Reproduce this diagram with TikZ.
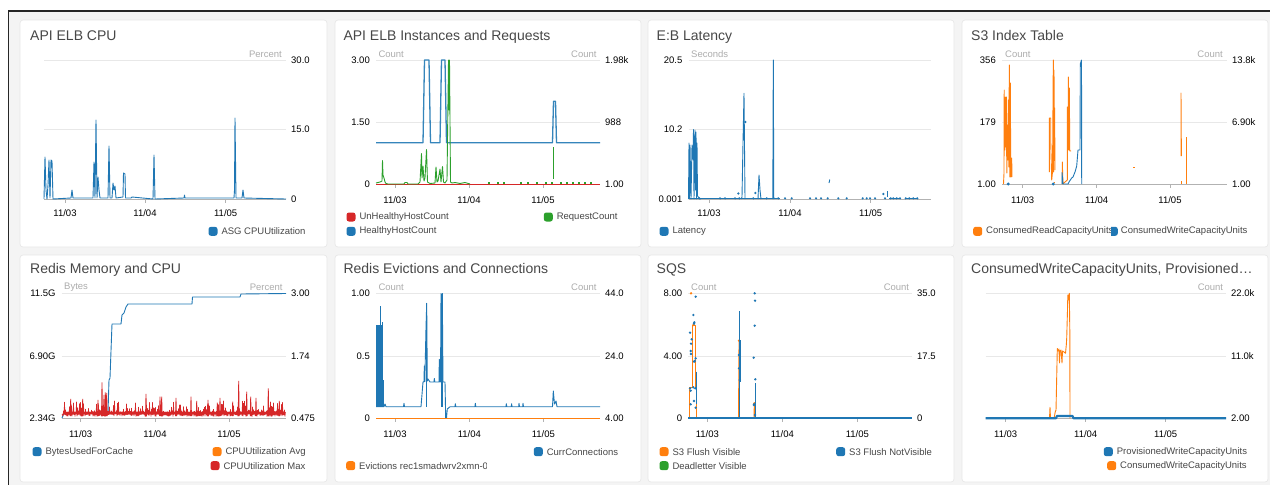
\documentclass[tikz,border=0pt]{standalone}
\usepackage{fontspec}
\setmainfont{Liberation Sans}
\definecolor{cwblue}{HTML}{1F77B4}
\definecolor{cworange}{HTML}{FF7F0E}
\definecolor{cwgreen}{HTML}{2CA02C}
\definecolor{cwred}{HTML}{D62728}
\definecolor{pagebg}{HTML}{F4F4F4}
\newcommand\ttlfont{\fontsize{14}{16}\selectfont}
\newcommand\lblfont{\fontsize{9.5}{11}\selectfont}
\tikzset{
  panelbox/.style={fill=white, draw=black!9, line width=0.7pt, rounded corners=3pt},
  gridln/.style={draw=black!9, line width=0.6pt},
  axisln/.style={draw=black!30, line width=0.9pt},
  tickln/.style={draw=black!30, line width=0.6pt},
  ttl/.style={font=\ttlfont, text=black!72, anchor=base west, inner sep=0pt},
  axlbl/.style={font=\lblfont, text=black, inner sep=0pt},
  unitlbl/.style={font=\lblfont, text=black!32, inner sep=0pt},
  legtxt/.style={font=\lblfont, text=black!72, anchor=west, inner sep=0pt},
  legsq/.style={minimum size=9pt, inner sep=0pt, rounded corners=2.5pt},
  series/.style={line width=0.9pt, line join=round},
}
% gridlines at top and middle, x axis at the bottom
\newcommand\chartframe[5]{%
  \draw[gridln] (#1,#3) -- (#2,#3) (#1,#4) -- (#2,#4);
  \draw[axisln] (#1,#5) -- (#2,#5);}
% value labels left of the plot
\newcommand\leftvals[8]{%
  \node[axlbl, anchor=east] (#1-a) at (#2-6,#3) {#6};
  \node[axlbl, anchor=east] (#1-b) at (#2-6,#4) {#7};
  \node[axlbl, anchor=east] (#1-c) at (#2-6,#5) {#8};}
% value labels right of the plot
\newcommand\rightvals[8]{%
  \node[axlbl, anchor=west] (#1-a) at (#2+5,#3) {#6};
  \node[axlbl, anchor=west] (#1-b) at (#2+5,#4) {#7};
  \node[axlbl, anchor=west] (#1-c) at (#2+5,#5) {#8};}
% date ticks and labels
\newcommand\datelabels[6]{%
  \draw[tickln] (#4,#2) -- (#4,#2+4) (#5,#2) -- (#5,#2+4) (#6,#2) -- (#6,#2+4);
  \node[axlbl] (#1-d1) at (#4,#3) {11/03};
  \node[axlbl] (#1-d2) at (#5,#3) {11/04};
  \node[axlbl] (#1-d3) at (#6,#3) {11/05};}
% legend entry: swatch and text
\newcommand\legentry[5]{%
  \node[legsq, fill=#2] (#1-sq) at (#3,#4) {};
  \node[legtxt] (#1-tx) at (#3+8.3,#4) {#5};}

\begin{document}
\begin{tikzpicture}[x=1pt,y=-1pt]
\useasboundingbox (0,0) rectangle (1270,485);
\fill[white] (0,0) rectangle (1270,485);
\fill[pagebg] (8.3,11) rectangle (1270,485);
\draw[black!85, line width=1.1pt] (1270,11) -- (8.3,11) -- (8.3,485);

% ---------- panels ----------
\draw[panelbox] (20,20) rectangle (327,247);
\draw[panelbox] (335,20) rectangle (641,247);
\draw[panelbox] (648,20) rectangle (954,247);
\draw[panelbox] (962,20) rectangle (1268,247);
\draw[panelbox] (20,255) rectangle (327,482);
\draw[panelbox] (335,255) rectangle (641,482);
\draw[panelbox] (648,255) rectangle (954,482);
\draw[panelbox] (962,255) rectangle (1268,482);

\node[ttl] (t1) at (30,40) {API ELB CPU};
\node[ttl] (t2) at (343.3,40) {API ELB Instances and Requests};
\node[ttl] (t3) at (656.5,40) {E:B Latency};
\node[ttl] (t4) at (971,40) {S3 Index Table};
\node[ttl] (t5) at (30,273.3) {Redis Memory and CPU};
\node[ttl] (t6) at (343.3,273.3) {Redis Evictions and Connections};
\node[ttl] (t7) at (656.5,273.3) {SQS};
\node[ttl] (t8) at (971,273.3) {ConsumedWriteCapacityUnits, Provisioned…};

% ---------- API ELB CPU ----------
\chartframe{44}{286}{60}{129}{199}
\node[unitlbl, anchor=east] (u1) at (282,54) {Percent};
\rightvals{r1}{286}{60}{129}{199}{30.0}{15.0}{0}
\datelabels{c1}{199}{213.5}{65}{145}{225.7}
\draw[cwblue, series] plot coordinates {(44,199) (45,157) (46,190) (47,199) (48,185)
  (49,160) (50,198) (51,160) (52,161) (53,199) (71,198) (72,190) (73,198) (93,198)
  (94,162) (95,198) (96,120) (97,198) (98,177) (99,190) (100,198) (108,198) (109,146)
  (110,198) (112,198) (113,183) (114,190) (115,186) (116,198) (123,197) (123.5,173)
  (125,174) (125.5,198) (131,198) (132,197) (153,199) (154,155) (155,199) (184,198)
  (184.5,195) (185,198) (234,198) (234.5,190) (235,118) (236,198) (242,198) (243,190)
  (244,198) (286,199)};
\legentry{lg1}{cwblue}{213}{231.3}{ASG CPUUtilization}

% ---------- API ELB Instances and Requests ----------
\chartframe{376}{600}{60}{122}{184}
\node[unitlbl, anchor=west] (u2a) at (378.3,54) {Count};
\node[unitlbl, anchor=east] (u2b) at (596.7,54) {Count};
\leftvals{l2}{376}{60}{122}{184}{3.00}{1.50}{0}
\rightvals{r2}{600}{60}{122}{184}{1.98k}{988}{1.00}
\datelabels{c2}{184}{200}{395}{469}{543}
\draw[cwblue!90, line width=1.3pt, line join=round] plot coordinates {(376,142.7) (423,142.7)
  (424.5,60) (429,60) (430.5,142.7) (440,142.7) (441.5,60) (445,60) (446.5,142.7)
  (552.5,142.7) (553.5,101.3) (555.5,101.3) (556.5,142.7) (600,142.7)};
\draw[cwred, line width=1pt] (376,184) -- (600,184);
\draw[cwgreen, series] plot coordinates {(376,183) (380,182) (382,181) (382.5,160.5)
  (383,175) (384,178) (385,182) (386,183.5) (388,184) (404,184) (405,182.5) (407,182.5)
  (408,184) (418,184) (420,182) (421.5,153.5) (422,178) (423,166) (424,181) (425,178)
  (426.5,149.5) (427.5,182) (430,183.5) (435,183) (436,167) (437,182) (438,181) (440,169)
  (441,182) (442.5,166.5) (443.5,182) (445,183) (447,180) (448.5,60) (449,110)
  (449.5,60) (450.5,182) (452,183) (455,182.5) (460,183.5) (465,182.5) (470,184)};
\foreach \x in {488,497,503,520,527,536,545,551,560,566,572,578,584,590}
  \draw[cwgreen, line width=1.3pt] (\x,183) -- (\x+2.2,183);
\draw[cwgreen, line width=0.9pt] (553.3,147) -- (553.3,179);
\legentry{lg2a}{cwred}{351}{217}{UnHealthyHostCount}
\legentry{lg2b}{cwgreen}{548.3}{217}{RequestCount}
\legentry{lg2c}{cwblue}{351}{231.3}{HealthyHostCount}

% ---------- E:B Latency ----------
\chartframe{688.5}{931}{60}{129}{199}
\node[unitlbl, anchor=west] (u3) at (691,54) {Seconds};
\leftvals{l3}{688.5}{60}{129}{199}{20.5}{10.2}{0.001}
\datelabels{c3}{199}{213.5}{709}{790}{870.7}
\draw[cwblue, series] plot coordinates {(688.5,199) (689,143) (689.5,198) (690,145)
  (691,199) (692,145) (693,160) (693.5,129.5) (694,199) (695,130) (695.5,190) (696,132)
  (696.5,199) (697,143) (697.5,196) (699,198) (701,199)};
\draw[cwblue, line width=0.8pt] (688.5,198.3) -- (780,198.3) (889,198.3) -- (900,198.3)
  (906,198.3) -- (918,198.3);
\draw[cwblue, series] plot coordinates {(741,199) (742,197) (743,143) (744,93.3)
  (745,199)};
\draw[cwblue, series] plot coordinates {(758,199) (759,175) (759.5,182) (760,190)
  (761,199)};
\draw[cwblue, series] plot coordinates {(772.8,199) (773.3,60) (773.8,199)};
\draw[cwblue, line width=0.9pt] (829,183) -- (829.8,179.5);
\draw[cwblue, line width=0.9pt] (887.3,197) -- (887.3,190.5);
\foreach \x in {699.3,720,725,735,739.3,753.3,766.7,778.3,785,791.7,810,816,821,
  827.7,838.3,846.7,862.7,866.7,870,875,885,890.7,893.3,896.7,900,905.7,909.3,913.3,917.3}
  \fill[cwblue] (\x,198.3) circle (1.2);
\foreach \p in {(745.3,122),(738.3,193.5),(755.3,193),(883.3,194)}
  \fill[cwblue] \p circle (1.3);
\legentry{lg3}{cwblue}{664}{231.3}{Latency}

% ---------- S3 Index Table ----------
\chartframe{1002}{1227}{60}{122}{184}
\node[unitlbl, anchor=west] (u4a) at (1005,54) {Count};
\node[unitlbl, anchor=east] (u4b) at (1223,54) {Count};
\leftvals{l4}{1002}{60}{122}{184}{356}{179}{1.00}
\rightvals{r4}{1227}{60}{122}{184}{13.8k}{6.90k}{1.00}
\datelabels{c4}{184}{200}{1022.7}{1096.7}{1170}
\draw[cworange, series] plot coordinates {(1003.5,184) (1004,173) (1004.2,90) (1004.8,150)
  (1005.2,97) (1005.8,147) (1006.3,97) (1006.8,173) (1007.3,125) (1007.8,160) (1008.3,100)
  (1008.8,167) (1009.3,65) (1009.8,177) (1010.3,83) (1010.8,177) (1011.7,158) (1012,177)};
\draw[cworange, series] plot coordinates {(1049.3,172) (1049.3,118) (1050.7,118)
  (1050.7,140) (1051.7,180) (1052.5,172) (1053.3,60) (1053.6,172) (1054,70) (1054.3,120)
  (1054.6,108) (1055,170)};
\draw[cworange, series] (1053.5,182) -- (1055,182);
\draw[cworange, series] plot coordinates {(1062.3,184) (1062.3,162) (1063,184) (1065,182)
  (1067.3,180) (1067.3,107) (1068.3,150) (1068.3,77) (1069.3,150) (1069.3,88) (1069.8,151)
  (1071,151)};
\draw[cworange, series] (1133,167.3) -- (1134.8,167.3);
\draw[cworange, series] plot coordinates {(1181,156) (1181,93) (1181.4,156)};
\draw[cworange, series] (1181.7,181) -- (1181.7,183.5);
\draw[cworange, series] (1186.3,137.3) -- (1186.3,184);
\draw[cwblue, series] plot coordinates {(1062,184) (1062,172.5) (1063,184) (1068,184)
  (1069,182) (1071.7,178) (1073,177) (1075,172) (1076.7,166) (1078,150) (1080,150)
  (1080.3,64) (1081.5,60) (1081.7,184)};
\fill[cwblue] (1008.3,184) circle (1.6) (1053.3,184) circle (1.6);
\legentry{lg4a}{cworange}{977.7}{231.3}{ConsumedReadCapacityUnits}
\begin{scope}
  \clip (1111,222) rectangle (1120,241);
  \node[legsq, fill=cwblue] (lg4b-sq) at (1113.3,231.3) {};
\end{scope}
\node[legtxt] (lg4b-tx) at (1120.7,231.3) {ConsumedWriteCapacityUnits};

% ---------- Redis Memory and CPU ----------
\chartframe{61.7}{286}{293.3}{356}{418.3}
\node[unitlbl, anchor=west] (u5a) at (64,287.7) {Bytes};
\node[unitlbl, anchor=east] (u5b) at (282.7,287.7) {Percent};
\leftvals{l5}{61.7}{293.3}{356}{418.3}{11.5G}{6.90G}{2.34G}
\rightvals{r5}{286}{293.3}{356}{418.3}{3.00}{1.74}{0.475}
\datelabels{c5}{418.3}{434}{80.7}{155}{229}
\draw[cwblue, series] plot coordinates {(62,418) (64,413) (108,413) (109,380) (110,378)
  (112,324) (121,324) (122,315) (124,313) (126,307) (128,304) (192,304) (192.5,297)
  (240,297) (241,294) (286,293.5)};
\pgfmathsetseed{7}
\draw[cwred, line width=0.6pt, line join=round] (62,414)
  \foreach \i in {63,...,285} { -- (\i,{416.5-2.5*rnd}) -- (\i+0.5,{412-11*rnd^3}) };
\foreach \x/\t in {70.7/399,82.7/399,98/400,102/382.3,104/395,105.3/392.3,106.7/393,
  146/394,160/396.7,161.7/396.7,176/398,191/396.7,196.7/401,208/400,217.3/402.7,
  220/398,232.7/401.7,238.7/381,246.7/391.7,250.7/396.7,256/398,268.3/388.3,279.3/401}
  \draw[cwred, line width=0.8pt] (\x-0.5,416) -- (\x,\t) -- (\x+0.5,416);
\legentry{lg5a}{cwblue}{37}{451.7}{BytesUsedForCache}
\legentry{lg5b}{cworange}{217}{451.7}{CPUUtilization Avg}
\legentry{lg5c}{cwred}{215}{465.7}{CPUUtilization Max}

% ---------- Redis Evictions and Connections ----------
\chartframe{376}{600}{293.3}{356}{418.3}
\node[unitlbl, anchor=west] (u6a) at (378.3,287.7) {Count};
\node[unitlbl, anchor=east] (u6b) at (596.7,287.7) {Count};
\leftvals{l6}{376}{293.3}{356}{418.3}{1.00}{0.5}{0}
\rightvals{r6}{600}{293.3}{356}{418.3}{44.0}{24.0}{4.00}
\datelabels{c6}{418.3}{434}{395}{469.3}{543.3}
\foreach \x/\t in {376.3/325,377/325,377.6/340,378.2/325,378.8/330,379.4/325,380/360,
  380.7/305.5,381.4/325,382.1/325,382.7/321.7,383.3/380,441/293.5,441.7/293.5,
  442.4/300,426/327.7,426.7/303.3}
  \draw[cwblue, line width=0.7pt] (\x,406.7) -- (\x,\t);
\draw[cwblue, series] plot coordinates {(376,406.7) (384,406.7) (385,404) (386,406.7)
  (403.5,406.7) (404,403.3) (404.5,406.7) (421,406.7) (423,382) (424,381.7) (424.3,366)
  (424.8,381.7) (426,327.7) (426.7,303.3) (427.3,381) (428,379) (430,382) (434,382)
  (434.3,378.5) (434.8,382) (439,382) (439.3,359.3) (439.8,382) (440.5,382) (441,293.5)
  (441.8,380) (442.3,293.5) (443,382) (445,382) (445.7,418.3) (446.5,418) (447.3,409)
  (450,406.7) (455,406.7) (455.3,403.7) (455.8,406.7) (475,406.7) (475.3,403.3)
  (475.8,406.7) (506,406.7) (506.3,403.7) (506.8,406.7) (511.3,406.7) (511.6,403.7)
  (512,406.7) (518.7,406.7) (519,403.3) (519.5,406.7) (522.7,406.7) (523,403.3)
  (523.5,406.7) (552.5,406.7) (553.3,391) (554.5,404) (556,401) (557,406.7) (600,406.7)};
\draw[cworange, line width=1.2pt] (376,418.3) -- (600,418.3);
\legentry{lg6a}{cwblue}{538.3}{451.7}{CurrConnections}
\begin{scope}
  \clip (340,456) rectangle (486.5,476);
  \legentry{lg6b}{cworange}{350.7}{465.7}{Evictions rec1smadwrv2xmn-0001}
\end{scope}

% ---------- SQS ----------
\chartframe{688.3}{912}{293.3}{356}{418.3}
\node[unitlbl, anchor=west] (u7a) at (691,287.7) {Count};
\node[unitlbl, anchor=east] (u7b) at (909.3,287.7) {Count};
\leftvals{l7}{688.3}{293.3}{356}{418.3}{8.00}{4.00}{0}
\rightvals{r7}{912}{293.3}{356}{418.3}{35.0}{17.5}{0}
\datelabels{c7}{418.3}{434}{707.3}{782.3}{857.3}
\draw[cworange, series] plot coordinates {(688.3,418.3) (689.3,418.3) (689.3,387.7)
  (692.7,387.7) (692.7,325) (695.5,325) (695.5,388) (696,388) (696,418.3)};
\draw[cworange, series] plot coordinates {(738.5,418.3) (739,340.7) (739.5,418.3)};
\draw[cworange, series] plot coordinates {(754,418.3) (754.3,403.3) (755,403.3)
  (755.2,418.3)};
\foreach \p in {(691,293.3),(693.3,325),(739,340.7),(754.3,403.3)}
  \fill[cworange] \p circle (1.3);
\draw[cwblue, line width=0.9pt] (696,371.7) -- (696,404) (739,311) -- (739,418.3)
  (740,340) -- (740,382.3) (755.3,383) -- (755.3,418.3);
\draw[cwblue, line width=2pt] (688.3,418.3) -- (912,418.3);
\foreach \p in {(690,332.7),(691,343.7),(691.7,339.3),(690.7,351),(691,354),(693.3,315),
  (694.3,322.3),(694,323.7),(695.7,296.7),(695.7,358.3),(694,361.7),(694.7,361),
  (690.7,404.3),(693.3,387.3),(694,401),(695.3,388.3),(695.7,407.7),(690.7,390.7),
  (690,388.3),(739,355),(739,368.3),(739.7,380),(754.7,293.3),(755,300.7),(754.7,325.7),
  (753.7,357.7),(755.3,379.3),(754,404.3),(755,415),(754,405)}
  \fill[cwblue] \p circle (1.3);
\legentry{lg7a}{cworange}{664}{451.7}{S3 Flush Visible}
\legentry{lg7b}{cwblue}{840.7}{451.7}{S3 Flush NotVisible}
\legentry{lg7c}{cwgreen}{664}{465.7}{Deadletter Visible}

% ---------- ConsumedWriteCapacityUnits, Provisioned ----------
\chartframe{985.7}{1226}{293.3}{356}{418.3}
\node[unitlbl, anchor=east] (u8) at (1223.3,287.7) {Count};
\rightvals{r8}{1226}{293.3}{356}{418.3}{22.0k}{11.0k}{2.00}
\datelabels{c8}{418.3}{434}{1005.7}{1085.7}{1165.7}
\draw[cworange, series] plot coordinates {(1049.5,418.3) (1050,407.3) (1050.5,418.3)
  (1054,418.3) (1055.5,410.7) (1056,410.7) (1057.3,348.5) (1058,351) (1059,349)
  (1059.5,363) (1060,351) (1061,350) (1062,363) (1062.5,351) (1064,352) (1065.5,353.3)
  (1066.3,345) (1066.7,338.3) (1067.5,310) (1067.8,295) (1068.5,300) (1069.3,293.3)
  (1069.8,330) (1070,418.3)};
\draw[cwblue, line width=2.2pt, line join=round] plot coordinates {(985.7,418.3)
  (1056,418.3) (1057,416) (1072.5,416) (1073.5,418.3) (1226,418.3)};
\legentry{lg8a}{cwblue}{1108.3}{451.7}{ProvisionedWriteCapacityUnits}
\legentry{lg8b}{cworange}{1111.7}{465.7}{ConsumedWriteCapacityUnits}
\end{tikzpicture}
\end{document}
